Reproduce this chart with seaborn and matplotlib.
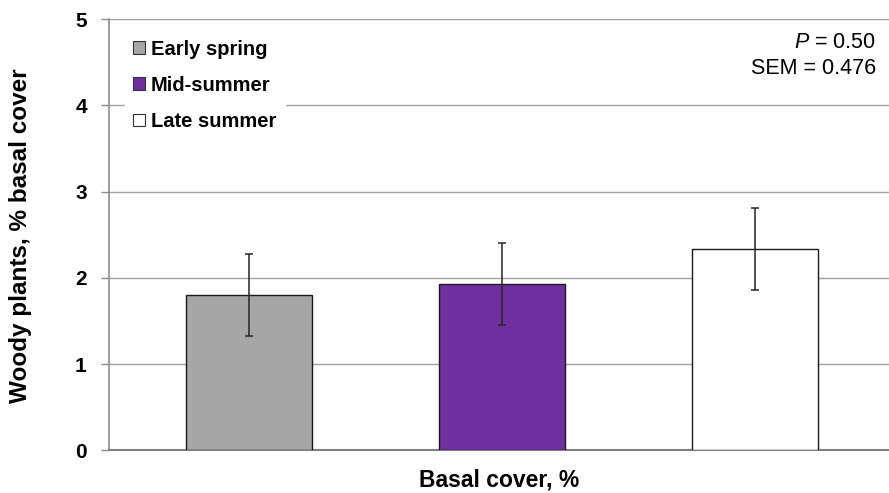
import matplotlib
matplotlib.use("Agg")
import matplotlib.pyplot as plt
import seaborn as sns
import pandas as pd

# Woody plant basal cover by sampling season
seasons = ["Early spring", "Mid-summer", "Late summer"]
basal_cover = [1.80, 1.93, 2.34]
sem = 0.476
p_value = "0.50"
colors = ["#A6A6A6", "#7030A0", "#FFFFFF"]
y_ticks = [0, 1, 2, 3, 4, 5]

sns.set_theme(style="white")
plt.rcParams["font.family"] = ["Liberation Sans", "DejaVu Sans"]
plt.rcParams["mathtext.fontset"] = "custom"
plt.rcParams["mathtext.it"] = "Liberation Sans:italic"
plt.rcParams["mathtext.rm"] = "Liberation Sans"
plt.rcParams["text.color"] = "black"
plt.rcParams["axes.labelcolor"] = "black"
plt.rcParams["ytick.color"] = "black"

df = pd.DataFrame({"season": seasons, "cover": basal_cover})

fig = plt.figure(figsize=(8.89, 4.93), dpi=100)
ax = fig.add_axes([0.1226, 0.0866, 0.8774, 0.8743])

sns.barplot(data=df, x="season", y="cover", hue="season", palette=colors,
            order=seasons, hue_order=seasons, width=0.5, dodge=False,
            saturation=1, edgecolor="#1a1a1a", linewidth=1.0, errorbar=None,
            legend=False, ax=ax, zorder=3)

ax.errorbar(range(len(seasons)), basal_cover, yerr=sem, fmt="none",
            ecolor="#262626", elinewidth=1.1, capsize=2.6, capthick=1.1, zorder=4)

ax.set_xlim(-0.553, 2.53)
ax.set_ylim(0, 5)
ax.set_yticks(y_ticks)
ax.set_yticklabels([str(t) for t in y_ticks], fontsize=15, fontweight="bold")
ax.set_xticks([])
ax.yaxis.grid(True, color="#A0A0A0", linewidth=1.0, zorder=0)
ax.set_axisbelow(True)
ax.tick_params(axis="y", which="both", left=True, length=6, width=1,
               color="#8C8C8C", labelcolor="black", pad=10)

for side in ["top", "right"]:
    ax.spines[side].set_visible(False)
ax.spines["left"].set_color("#8C8C8C")
ax.spines["left"].set_linewidth(1.2)
ax.spines["bottom"].set_color("#7F7F7F")
ax.spines["bottom"].set_linewidth(1.5)

ax.set_xlabel("Basal cover, %", fontsize=16.5, fontweight="bold", va="center")
ax.set_ylabel("Woody plants, % basal cover", fontsize=17.5, fontweight="bold",
              va="center")
ax.xaxis.set_label_coords(0.5, -0.068)
ax.yaxis.set_label_coords(-0.113, 0.497)

handles = [plt.Rectangle((0, 0), 1, 1, facecolor=c, edgecolor="#333333",
                         linewidth=0.8) for c in colors]
leg = ax.legend(handles, seasons, loc="upper left", bbox_to_anchor=(0.008, 0.995),
                frameon=True, fancybox=False, framealpha=1.0, edgecolor="white",
                facecolor="white", prop={"weight": "bold", "size": 14.5},
                handlelength=0.6, handleheight=0.6, handletextpad=0.28,
                labelspacing=0.86, borderpad=0.4)
leg.set_zorder(5)

ax.text(0.983, 0.947, f"$P$ = {p_value}", transform=ax.transAxes,
        ha="right", va="center", fontsize=15.5)
ax.text(0.983, 0.886, f"SEM = {sem}", transform=ax.transAxes,
        ha="right", va="center", fontsize=15.5)

fig.savefig("out.png", dpi=100)
